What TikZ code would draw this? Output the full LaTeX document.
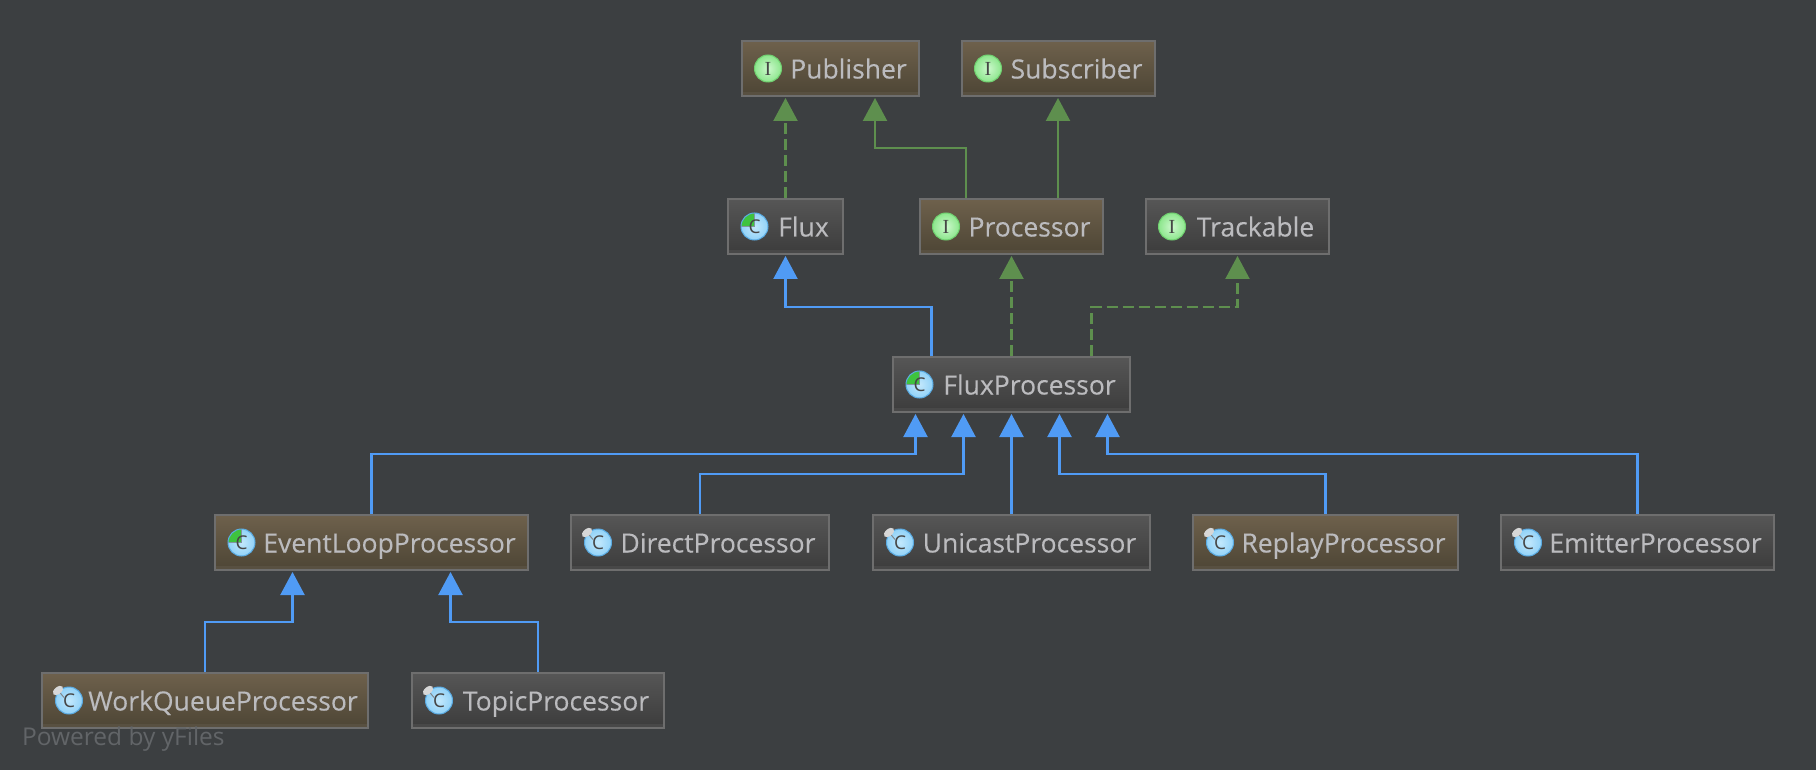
\documentclass[tikz,border=0pt]{standalone}
\usepackage{fontspec}
\setmainfont{Open Sans}
\newfontfamily\boxfont[FakeBold=0.2]{Open Sans}
\newfontfamily\iconfont{Liberation Serif}
\usetikzlibrary{arrows.meta}

\definecolor{darcula}{RGB}{60,63,65}
\definecolor{boxline}{RGB}{110,110,110}
\definecolor{boxtext}{RGB}{187,187,190}
\definecolor{browntop}{RGB}{110,97,76}
\definecolor{brownbot}{RGB}{77,69,53}
\definecolor{brownstrip}{RGB}{88,80,65}
\definecolor{greytop}{RGB}{86,86,86}
\definecolor{greybot}{RGB}{60,60,60}
\definecolor{greystrip}{RGB}{72,72,72}
\definecolor{implgreen}{RGB}{94,143,78}
\definecolor{extblue}{RGB}{80,155,245}
\definecolor{poweredgrey}{RGB}{98,101,104}
\definecolor{iconink}{RGB}{70,70,70}
\definecolor{ifaceline}{RGB}{112,208,112}
\definecolor{ifacein}{RGB}{205,248,205}
\definecolor{ifaceout}{RGB}{140,230,140}
\definecolor{classline}{RGB}{90,170,225}
\definecolor{classin}{RGB}{195,232,252}
\definecolor{classout}{RGB}{145,210,248}
\definecolor{wedgegreen}{RGB}{62,195,62}
\definecolor{wedgeline}{RGB}{130,150,160}
\definecolor{pinfill}{RGB}{215,215,215}
\definecolor{pinline}{RGB}{130,135,140}

\def\arrowtip{Triangle[length=23pt,width=24pt]}

\begin{document}
\begin{tikzpicture}[x=1pt,y=-1pt,line width=2.2pt]
    \tikzstyle{basebox}=[rectangle,draw=boxline,line width=2pt,minimum height=55pt,inner sep=0pt,text=boxtext,
        font=\boxfont\fontsize{26.5}{30}\selectfont,text height=26pt,text depth=6pt,
        execute at begin node={\hspace{36pt}}]
    \tikzstyle{brownbox}=[basebox,top color=browntop,bottom color=brownbot,
        path picture={\fill[brownstrip] ([yshift=4pt]path picture bounding box.south west) rectangle (path picture bounding box.south east);}]
    \tikzstyle{greybox}=[basebox,top color=greytop,bottom color=greybot,
        path picture={\fill[greystrip] ([yshift=4pt]path picture bounding box.south west) rectangle (path picture bounding box.south east);}]
    \tikzstyle{ifaceicon}=[circle,draw=ifaceline,line width=1pt,minimum size=27pt,inner sep=0pt,
        inner color=ifacein,outer color=ifaceout,
        text=iconink,font=\iconfont\fontsize{20}{20}\selectfont]
    \tikzstyle{classicon}=[circle,draw=classline,line width=1pt,minimum size=27pt,inner sep=0pt,
        inner color=classin,outer color=classout,
        text=iconink,font=\fontsize{19}{19}\selectfont]
    \tikzstyle{abstracticon}=[classicon,
        path picture={
            \fill[wedgegreen] (path picture bounding box.center) -- (path picture bounding box.west)
                -- (path picture bounding box.north west) -- (path picture bounding box.north) -- cycle;
            \draw[wedgeline,line width=1pt] (path picture bounding box.west)
                -- (path picture bounding box.center) -- (path picture bounding box.north);
        }]
    \tikzstyle{pinhead}=[fill=pinfill]
    \tikzstyle{pinstem}=[draw=pinline,line width=1pt]
    \tikzstyle{implements}=[draw=implgreen,-{\arrowtip[fill=implgreen]},shorten >=1pt]
    \tikzstyle{implsolid}=[implements]
    \tikzstyle{impldash}=[implements,dash pattern=on 11pt off 5pt]
    \tikzstyle{extends}=[draw=extblue,-{\arrowtip[fill=extblue]},shorten >=1pt]

    \fill[darcula,use as bounding box] (0,0) rectangle (1816,770);

    \foreach \name/\lbl/\x/\y/\w in {publisher/Publisher/830.5/68.5/177,
                                     subscriber/Subscriber/1058.5/68.5/193,
                                     processor/Processor/1011.5/226.5/183,
                                     eventloop/EventLoopProcessor/371.5/542.5/313,
                                     replay/ReplayProcessor/1325.5/542.5/265,
                                     workqueue/WorkQueueProcessor/205/700.5/326}
        \node[brownbox,minimum width=\w pt] (\name) at (\x,\y) {\lbl};

    \foreach \name/\lbl/\x/\y/\w in {flux/Flux/785.5/226.5/115,
                                     trackable/Trackable/1237.5/226.5/183,
                                     fluxprocessor/FluxProcessor/1011.5/384.5/237,
                                     direct/DirectProcessor/700/542.5/258,
                                     unicast/UnicastProcessor/1011.5/542.5/277,
                                     emitter/EmitterProcessor/1637.5/542.5/273,
                                     topic/TopicProcessor/538/700.5/252}
        \node[greybox,minimum width=\w pt] (\name) at (\x,\y) {\lbl};

    \foreach \name in {publisher,subscriber,processor,trackable}
        \node[ifaceicon] (\name-icon) at ([xshift=27pt]\name.west) {I};

    \foreach \name in {flux,fluxprocessor,eventloop}
        \node[abstracticon] (\name-icon) at ([xshift=27.5pt]\name.west) {C};

    \foreach \name in {direct,unicast,replay,emitter,workqueue,topic} {
        \node[classicon] (\name-icon) at ([xshift=28pt]\name.west) {C};
        \draw[pinstem] ([shift={(-10pt,9pt)}]\name-icon.center) -- ([shift={(-5pt,3pt)}]\name-icon.center);
        \fill[pinhead] ([shift={(-11pt,10pt)}]\name-icon.center) ellipse [x radius=6pt,y radius=3.5pt,rotate=40];
    }

    \draw[impldash] (flux.north) -- (flux.north |- publisher.south);
    \draw[implsolid] ([xshift=-45.5pt]processor.north) -- ++(0,-50) -| ([xshift=44.5pt]publisher.south);
    \draw[implsolid] ([xshift=46.5pt]processor.north) -- ([xshift=46.5pt]processor.north |- subscriber.south);
    \draw[impldash] (fluxprocessor.north) -- (processor.south);
    \draw[impldash] ([xshift=80pt]fluxprocessor.north) -- ++(0,-49) -| (trackable.south);
    \draw[extends] ([xshift=-80pt]fluxprocessor.north) -- ++(0,-49) -| (flux.south);

    \foreach \source/\dx/\rise in {eventloop/-96/60,direct/-48/40,replay/48/40,emitter/96/60}
        \draw[extends] (\source.north) -- ++(0,-\rise) -| ([xshift=\dx pt]fluxprocessor.south);
    \draw[extends] (unicast.north) -- (fluxprocessor.south);

    \foreach \source/\dx in {workqueue/-79,topic/79}
        \draw[extends] (\source.north) -- ++(0,-50) -| ([xshift=\dx pt]eventloop.south);

    \node[anchor=base west,inner sep=0pt,text=poweredgrey,font=\fontsize{24.5}{26}\selectfont] (yfiles) at (21,745) {Powered by yFiles};
\end{tikzpicture}
\end{document}
